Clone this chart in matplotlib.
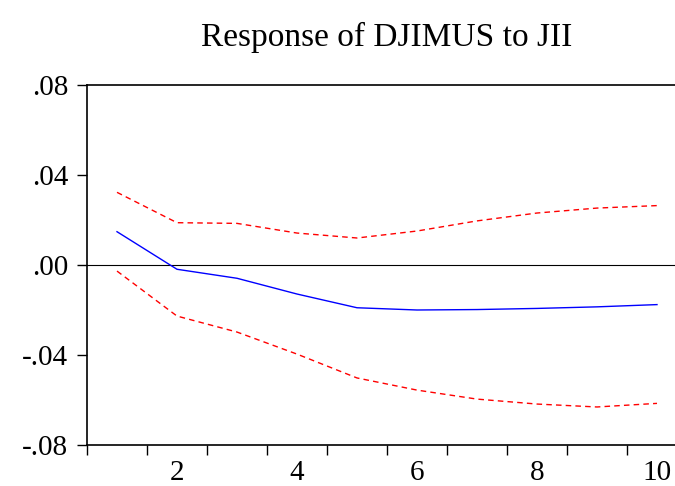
import numpy as np
import matplotlib
matplotlib.use("Agg")
import matplotlib.pyplot as plt
from matplotlib.ticker import FuncFormatter

plt.rcParams['font.family'] = ['Liberation Serif', 'DejaVu Serif']

periods = [1, 2, 3, 4, 5, 6, 7, 8, 9, 10]
response = [0.0148, -0.0019, -0.0059, -0.0129, -0.0190, -0.0200, -0.0198, -0.0193, -0.0186, -0.0176]
upper = [0.0323, 0.0188, 0.0185, 0.0142, 0.0120, 0.0151, 0.0196, 0.0231, 0.0253, 0.0264]
lower = [-0.0027, -0.0227, -0.0298, -0.0396, -0.0502, -0.0556, -0.0596, -0.0618, -0.0631, -0.0615]
yticks = [-0.08, -0.04, 0.0, 0.04, 0.08]
xlabels = [2, 4, 6, 8, 10]

fig = plt.figure(figsize=(6.75, 4.86), dpi=100)
# right edge of the frame falls outside the picture, as in the original
ax = fig.add_axes([87 / 675, 1 - 445 / 486, 600 / 675, 360 / 486])

ax.axhline(0, color='black', linewidth=0.8)
ax.plot(periods, response, color='#0000FF', linewidth=1.0)
ax.plot(periods, upper, color='#FF0000', linewidth=1.0, linestyle=(0, (4, 3)))
ax.plot(periods, lower, color='#FF0000', linewidth=1.0, linestyle=(0, (4, 3)))

ax.set_xlim(0.5, 10.5)
ax.set_ylim(-0.08, 0.08)

ax.set_yticks(yticks)
ax.yaxis.set_major_formatter(FuncFormatter(lambda v, p: ('%.2f' % v).replace('0.', '.', 1)))
ax.tick_params(axis='y', direction='out', length=7.5, width=1.0, pad=6, labelsize=21)

ax.set_xticks(np.arange(0.5, 10.5, 1.0))
ax.set_xticklabels([])
ax.set_xticks(xlabels, minor=True)
ax.set_xticklabels([str(v) for v in xlabels], minor=True)
ax.tick_params(axis='x', which='major', direction='out', length=7.5, width=1.0)
ax.tick_params(axis='x', which='minor', length=0, pad=11, labelsize=21)

for s in ax.spines.values():
    s.set_linewidth(1.2)

ax.set_title('Response of DJIMUS to JII', fontsize=24, pad=28)

fig.savefig('out.png', dpi=100)
